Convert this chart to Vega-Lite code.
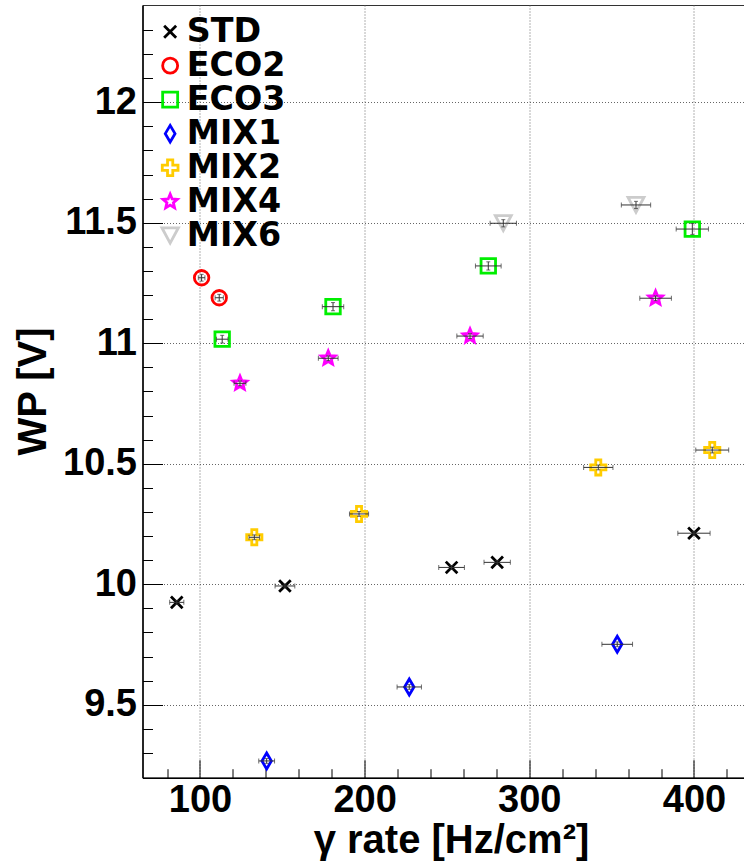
{
  "$schema": "https://vega.github.io/schema/vega-lite/v6.json",
  "width": 603,
  "height": 772.7,
  "autosize": {"type": "none"},
  "padding": {"left": 142.5, "top": 5, "right": 0, "bottom": 86.3},
  "background": "white",
  "view": {"stroke": "#333", "strokeWidth": 1},
  "config": {
    "font": "Liberation Sans",
    "legend": {
      "labelFont": "DejaVu Sans",
      "labelFontWeight": "bold",
      "labelFontSize": 33.3,
      "labelColor": "black",
      "symbolStrokeWidth": 2.8,
      "symbolSize": 225,
      "rowPadding": 0,
      "labelOffset": 0,
      "padding": 0
    }
  },
  "data": {
    "values": [
      {"series": "STD", "rate": 85.9, "wp": 9.925, "xlo": 81.6, "xhi": 90.2, "ylo": 9.917, "yhi": 9.933},
      {"series": "STD", "rate": 151.6, "wp": 9.993, "xlo": 145.6, "xhi": 157.6, "ylo": 9.985, "yhi": 10.001},
      {"series": "STD", "rate": 252.8, "wp": 10.07, "xlo": 245.0, "xhi": 260.6, "ylo": 10.062, "yhi": 10.078},
      {"series": "STD", "rate": 280.5, "wp": 10.091, "xlo": 272.5, "xhi": 288.5, "ylo": 10.083, "yhi": 10.099},
      {"series": "STD", "rate": 400.0, "wp": 10.212, "xlo": 390.2, "xhi": 409.8, "ylo": 10.204, "yhi": 10.22},
      {"series": "ECO2", "rate": 101.0, "wp": 11.272, "xlo": 99.0, "xhi": 103.0, "ylo": 11.258, "yhi": 11.286},
      {"series": "ECO2", "rate": 111.7, "wp": 11.189, "xlo": 109.2, "xhi": 114.2, "ylo": 11.175, "yhi": 11.203},
      {"series": "ECO3", "rate": 113.5, "wp": 11.017, "xlo": 110.0, "xhi": 117.0, "ylo": 11.001, "yhi": 11.033},
      {"series": "ECO3", "rate": 180.8, "wp": 11.152, "xlo": 174.3, "xhi": 187.3, "ylo": 11.135, "yhi": 11.169},
      {"series": "ECO3", "rate": 275.1, "wp": 11.321, "xlo": 267.3, "xhi": 282.9, "ylo": 11.304, "yhi": 11.338},
      {"series": "ECO3", "rate": 399.0, "wp": 11.474, "xlo": 389.2, "xhi": 408.8, "ylo": 11.451, "yhi": 11.497},
      {"series": "MIX1", "rate": 140.5, "wp": 9.267, "xlo": 135.7, "xhi": 145.3, "ylo": 9.257, "yhi": 9.277},
      {"series": "MIX1", "rate": 227.1, "wp": 9.574, "xlo": 219.7, "xhi": 234.5, "ylo": 9.564, "yhi": 9.584},
      {"series": "MIX1", "rate": 353.4, "wp": 9.751, "xlo": 344.1, "xhi": 362.7, "ylo": 9.741, "yhi": 9.761},
      {"series": "MIX2", "rate": 133.0, "wp": 10.195, "xlo": 129.8, "xhi": 136.2, "ylo": 10.185, "yhi": 10.205},
      {"series": "MIX2", "rate": 196.6, "wp": 10.292, "xlo": 190.8, "xhi": 202.4, "ylo": 10.282, "yhi": 10.302},
      {"series": "MIX2", "rate": 341.9, "wp": 10.485, "xlo": 333.0, "xhi": 350.8, "ylo": 10.475, "yhi": 10.495},
      {"series": "MIX2", "rate": 411.1, "wp": 10.557, "xlo": 401.1, "xhi": 421.1, "ylo": 10.545, "yhi": 10.569},
      {"series": "MIX4", "rate": 124.3, "wp": 10.834, "xlo": 120.7, "xhi": 127.9, "ylo": 10.824, "yhi": 10.844},
      {"series": "MIX4", "rate": 177.9, "wp": 10.938, "xlo": 171.9, "xhi": 183.9, "ylo": 10.928, "yhi": 10.948},
      {"series": "MIX4", "rate": 264.0, "wp": 11.03, "xlo": 256.0, "xhi": 272.0, "ylo": 11.02, "yhi": 11.04},
      {"series": "MIX4", "rate": 376.7, "wp": 11.187, "xlo": 367.1, "xhi": 386.3, "ylo": 11.177, "yhi": 11.197},
      {"series": "MIX6", "rate": 284.2, "wp": 11.498, "xlo": 276.2, "xhi": 292.2, "ylo": 11.483, "yhi": 11.513},
      {"series": "MIX6", "rate": 364.8, "wp": 11.574, "xlo": 355.9, "xhi": 373.7, "ylo": 11.559, "yhi": 11.589}
    ]
  },
  "resolve": {"axis": {"x": "independent", "y": "independent"}},
  "layer": [
    {
      "mark": {"type": "point", "filled": false, "strokeWidth": 2.8, "size": 210, "opacity": 1},
      "encoding": {
        "x": {
          "field": "rate", "type": "quantitative",
          "scale": {"domain": [65.1, 431.3], "nice": false, "zero": false},
          "axis": {
            "orient": "bottom", "values": [100, 200, 300, 400], "format": "d",
            "ticks": false, "labelFont": "Liberation Sans", "labelFontWeight": "bold",
            "labelFontSize": 38, "labelColor": "black", "labelPadding": 4,
            "labelFlush": false, "labelOverlap": false,
            "domain": true, "domainColor": "black", "domainWidth": 1.5,
            "grid": true, "gridColor": "#666", "gridDash": [1, 2], "gridWidth": 1,
            "title": "γ rate [Hz/cm²]", "titleFont": "Liberation Sans", "titleFontSize": 40,
            "titleFontWeight": "bold", "titleColor": "black", "titleX": 308.5, "titleY": 74.3,
            "titleAlign": "center", "titleBaseline": "alphabetic"
          }
        },
        "y": {
          "field": "wp", "type": "quantitative",
          "scale": {"domain": [9.1975, 12.4037], "nice": false, "zero": false},
          "axis": {
            "orient": "left", "values": [9.5, 10, 10.5, 11, 11.5, 12], "format": "~g",
            "ticks": false, "labelFont": "Liberation Sans", "labelFontWeight": "bold",
            "labelFontSize": 38, "labelColor": "black", "labelPadding": 6,
            "labelFlush": false, "labelOverlap": false,
            "domain": true, "domainColor": "black", "domainWidth": 1.5,
            "grid": true, "gridColor": "#666", "gridDash": [1, 2], "gridWidth": 1,
            "title": "WP [V]", "titleFont": "Liberation Sans", "titleFontSize": 40,
            "titleFontWeight": "bold", "titleColor": "black", "titleAngle": -90,
            "titleX": -97, "titleY": 386, "titleAlign": "center", "titleBaseline": "alphabetic"
          }
        },
        "color": {
          "field": "series", "type": "nominal",
          "scale": {
            "domain": ["STD", "ECO2", "ECO3", "MIX1", "MIX2", "MIX4", "MIX6"],
            "range": ["#000000", "#ff0000", "#00ee00", "#0000ff", "#ffcc00", "#ff00ff", "#cccccc"]
          },
          "legend": {"orient": "none", "legendX": 11, "legendY": 10, "title": null}
        },
        "shape": {
          "field": "series", "type": "nominal",
          "scale": {
            "domain": ["STD", "ECO2", "ECO3", "MIX1", "MIX2", "MIX4", "MIX6"],
            "range": [
              "M-0.8,-0.8L0.8,0.8M-0.8,0.8L0.8,-0.8",
              "circle",
              "square",
              "M0,-1.1L0.65,0L0,1.1L-0.65,0Z",
              "M-0.35,-1.05L0.35,-1.05L0.35,-0.35L1.05,-0.35L1.05,0.35L0.35,0.35L0.35,1.05L-0.35,1.05L-0.35,0.35L-1.05,0.35L-1.05,-0.35L-0.35,-0.35Z",
              "M0,-1L0.265,-0.364L0.951,-0.309L0.428,0.139L0.588,0.809L0,0.45L-0.588,0.809L-0.428,0.139L-0.951,-0.309L-0.265,-0.364Z",
              "M-1.1,-1.05L1.1,-1.05L0,1Z"
            ]
          },
          "legend": {"orient": "none", "legendX": 11, "legendY": 10, "title": null}
        }
      }
    },
    {
      "mark": {"type": "rule", "color": "#333", "strokeWidth": 1},
      "encoding": {
        "x": {
          "field": "xlo", "type": "quantitative",
          "scale": {"domain": [65.1, 431.3], "nice": false, "zero": false},
          "axis": {
            "orient": "bottom", "values": [100, 200, 300, 400], "tickSize": -18,
            "tickColor": "black", "tickWidth": 1, "labels": false, "domain": false,
            "grid": false, "title": null
          }
        },
        "x2": {"field": "xhi"},
        "y": {
          "field": "wp", "type": "quantitative",
          "scale": {"domain": [9.1975, 12.4037], "nice": false, "zero": false},
          "axis": {
            "orient": "left", "values": [9.5, 10, 10.5, 11, 11.5, 12], "tickSize": -20,
            "tickColor": "black", "tickWidth": 1, "labels": false, "domain": false,
            "grid": false, "title": null
          }
        }
      }
    },
    {
      "mark": {"type": "rule", "color": "#333", "strokeWidth": 1},
      "encoding": {
        "x": {
          "field": "rate", "type": "quantitative",
          "scale": {"domain": [65.1, 431.3], "nice": false, "zero": false},
          "axis": {
            "orient": "bottom",
            "values": [80, 120, 140, 160, 180, 220, 240, 260, 280, 320, 340, 360, 380, 420],
            "tickSize": -9, "tickColor": "black", "tickWidth": 1, "labels": false,
            "domain": false, "grid": false, "title": null
          }
        },
        "y": {
          "field": "ylo", "type": "quantitative",
          "scale": {"domain": [9.1975, 12.4037], "nice": false, "zero": false},
          "axis": {
            "orient": "left",
            "values": [9.3, 9.4, 9.6, 9.7, 9.8, 9.9, 10.1, 10.2, 10.3, 10.4, 10.6, 10.7, 10.8, 10.9, 11.1, 11.2, 11.3, 11.4, 11.6, 11.7, 11.8, 11.9, 12.1, 12.2, 12.3],
            "tickSize": -10, "tickColor": "black", "tickWidth": 1, "labels": false,
            "domain": false, "grid": false, "title": null
          }
        },
        "y2": {"field": "yhi"}
      }
    },
    {
      "mark": {"type": "tick", "color": "#333", "orient": "vertical", "size": 5, "thickness": 1},
      "encoding": {
        "x": {"field": "xlo", "type": "quantitative", "scale": {"domain": [65.1, 431.3], "nice": false, "zero": false}, "axis": null},
        "y": {"field": "wp", "type": "quantitative", "scale": {"domain": [9.1975, 12.4037], "nice": false, "zero": false}, "axis": null}
      }
    },
    {
      "mark": {"type": "tick", "color": "#333", "orient": "vertical", "size": 5, "thickness": 1},
      "encoding": {
        "x": {"field": "xhi", "type": "quantitative", "scale": {"domain": [65.1, 431.3], "nice": false, "zero": false}, "axis": null},
        "y": {"field": "wp", "type": "quantitative", "scale": {"domain": [9.1975, 12.4037], "nice": false, "zero": false}, "axis": null}
      }
    },
    {
      "mark": {"type": "tick", "color": "#333", "orient": "horizontal", "size": 4, "thickness": 1},
      "encoding": {
        "x": {"field": "rate", "type": "quantitative", "scale": {"domain": [65.1, 431.3], "nice": false, "zero": false}, "axis": null},
        "y": {"field": "ylo", "type": "quantitative", "scale": {"domain": [9.1975, 12.4037], "nice": false, "zero": false}, "axis": null}
      }
    },
    {
      "mark": {"type": "tick", "color": "#333", "orient": "horizontal", "size": 4, "thickness": 1},
      "encoding": {
        "x": {"field": "rate", "type": "quantitative", "scale": {"domain": [65.1, 431.3], "nice": false, "zero": false}, "axis": null},
        "y": {"field": "yhi", "type": "quantitative", "scale": {"domain": [9.1975, 12.4037], "nice": false, "zero": false}, "axis": null}
      }
    }
  ]
}
